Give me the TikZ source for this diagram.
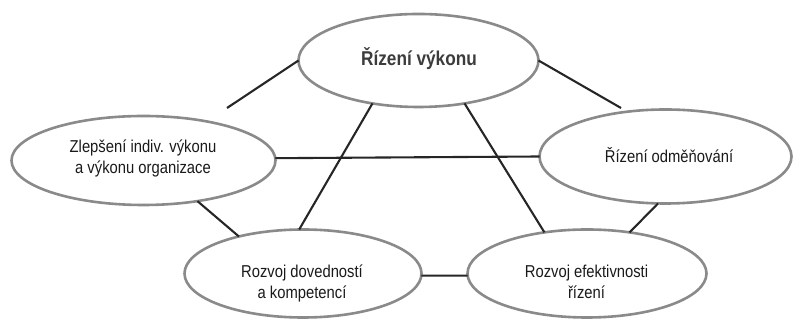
\documentclass[tikz,border=0pt]{standalone}
\usepackage{fontspec}
\setmainfont{Liberation Sans}[FakeStretch=0.86]
\usetikzlibrary{shapes.geometric}
\definecolor{ringgray}{HTML}{8A8A8A}
\definecolor{linedark}{HTML}{262626}
\definecolor{txtdark}{HTML}{1A1A1A}
\newcommand\twolines[2]{\begin{tabular}[t]{@{}c@{}}#1\\#2\end{tabular}}
\begin{document}
\begin{tikzpicture}[x=1pt,y=1pt,
  ring/.style={ellipse,draw=ringgray,line width=2.6pt,fill=white,inner sep=0pt,outer sep=0pt},
  conn/.style={draw=linedark,line width=2.1pt},
  lbl/.style={anchor=base,inner sep=0pt,text=txtdark,font=\fontsize{17.2}{20.5}\selectfont},
  ttl/.style={anchor=base,inner sep=0pt,text=txtdark!85!white,font=\fontsize{20}{22}\selectfont\bfseries}]
\useasboundingbox (0,0) rectangle (795,320);
% ellipses
\node[ring,minimum width=240pt,minimum height=93pt] (T) at (418.5,259.5) {};
\node[ring,minimum width=264pt,minimum height=89pt] (L) at (143.5,159.5) {};
\node[ring,minimum width=252pt,minimum height=94pt] (R) at (665.5,163.5) {};
\node[ring,minimum width=237pt,minimum height=88pt] (BL) at (303,46.5) {};
\node[ring,minimum width=239pt,minimum height=88pt] (BR) at (587,46.5) {};
% free ends
\coordinate (c1) at (227,212);
\coordinate (c2) at (621,212);
% connectors
\draw[conn] (T.180) -- (c1);
\draw[conn] (T.0) -- (c2);
\draw[conn] (L.1.5) -- (R.180);
\draw[conn] (L.323) -- (BL.150);
\draw[conn] (T.223) -- (BL.95);
\draw[conn] (T.317) -- (BR.136);
\draw[conn] (R.261) -- (BR.44);
\draw[conn] (BL.359) -- (BR.181);
% labels
\node[ttl] (Tt) at (419,254) {Řízení výkonu};
\node[lbl] (Lt) at (143,167) {\twolines{Zlepšení indiv. výkonu}{a výkonu organizace}};
\node[lbl] (Rt) at (669,157) {Řízení odměňování};
\node[lbl] (BLt) at (302,42) {\twolines{Rozvoj dovedností}{a kompetencí}};
\node[lbl] (BRt) at (586.5,42) {\twolines{Rozvoj efektivnosti}{řízení}};
\end{tikzpicture}
\end{document}
